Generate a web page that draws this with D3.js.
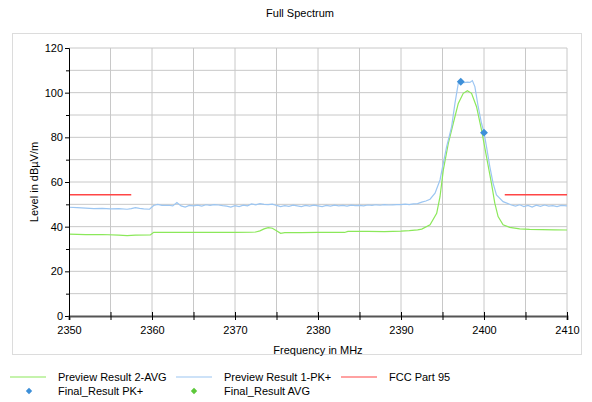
<!DOCTYPE html>
<html>
<head>
<meta charset="utf-8">
<script src="https://d3js.org/d3.v7.min.js"></script>
<style>
  body { margin: 0; background: #fff; }
  text { font-family: "Liberation Sans", Arial, sans-serif; }
</style>
</head>
<body>
<div id="cont"></div>
<script>
// Preview Result 1-PK+ (blue trace)
var pkFreq = [2350, 2351, 2352, 2353, 2354, 2355, 2356, 2357, 2357.5, 2358, 2358.5, 2359, 2359.7,
  2360.2, 2360.7, 2361.2, 2362, 2362.5, 2363, 2363.5, 2364, 2364.5, 2365, 2365.5, 2366, 2366.5,
  2367, 2367.5, 2368, 2368.5, 2369, 2369.5, 2370, 2370.5, 2371, 2371.5, 2372, 2372.5, 2373,
  2373.5, 2374, 2374.5, 2375, 2375.5, 2376, 2376.5, 2377, 2377.5, 2378, 2378.5, 2379, 2379.5,
  2380, 2380.5, 2381, 2381.5, 2382, 2382.5, 2383, 2383.5, 2384, 2384.5, 2385, 2385.5, 2386,
  2386.5, 2387, 2387.5, 2388, 2388.5, 2389, 2389.5, 2390, 2390.5, 2391, 2391.5, 2392, 2392.5,
  2393, 2393.5, 2394.1, 2394.7, 2395.1, 2395.5, 2396.1, 2396.5, 2396.9, 2397.2, 2397.6, 2398,
  2398.3, 2398.6, 2398.9, 2399.3, 2399.7, 2400, 2400.3, 2400.7, 2401.1, 2401.5, 2402.3, 2403.3,
  2403.8, 2404.3, 2404.8, 2405.3, 2405.8, 2406.3, 2406.8, 2407.3, 2407.8, 2408.3, 2408.8,
  2409.3, 2410];
var pkLevel = [48.7, 48.5, 48.3, 48.1, 48.2, 48.0, 48.1, 47.8, 48.1, 48.5, 48.2, 48.0, 47.8,
  49.5, 50.0, 49.5, 49.6, 49.3, 50.8, 49.3, 48.8, 49.5, 49.3, 49.6, 49.2, 49.8,
  49.5, 49.9, 49.7, 49.4, 49.2, 48.8, 49.4, 49.0, 49.6, 49.3, 50.2, 49.8, 50.3,
  50.0, 49.9, 50.1, 49.5, 49.0, 49.4, 49.1, 49.6, 49.3, 49.0, 49.5, 49.2, 49.6,
  49.3, 49.0, 49.5, 49.2, 49.6, 49.3, 49.5, 49.2, 49.6, 49.4, 49.5, 49.3, 49.7,
  49.5, 49.8, 49.6, 49.9, 49.7, 49.8, 49.9, 49.9, 50.1, 49.9, 50.2, 50.3, 51.0,
  51.5, 52.3, 55.0, 60.9, 68.4, 75.8, 84.8, 95.2, 104.2, 104.9, 104.5, 104.7,
  104.6, 105.4, 102.7, 93.7, 86.3, 82.1, 75.8, 66.9, 59.4, 54.2, 51.2, 49.7,
  49.2, 49.8, 49.0, 49.5, 48.8, 49.6, 49.1, 49.7, 49.2, 49.4, 49.0,
  49.5, 49.3];

// Preview Result 2-AVG (green trace)
var avgFreq = [2350, 2352, 2354, 2356, 2357, 2358, 2359.8, 2360.2, 2362, 2364, 2366, 2368, 2370,
  2372, 2372.5, 2373, 2373.5, 2374, 2374.5, 2375, 2375.5, 2376, 2378, 2380, 2382, 2383.2, 2383.6,
  2386, 2388, 2390, 2391, 2392, 2392.5, 2393.5, 2394.3, 2394.7, 2395.1, 2395.7, 2396.3, 2396.9,
  2397.5, 2398, 2398.5, 2399.1, 2399.7, 2400.3, 2400.9, 2401.3, 2401.7, 2402.3, 2403.1, 2404.3,
  2405.5, 2407, 2408.5, 2410];
var avgLevel = [36.7, 36.4, 36.5, 36.2, 36.0, 36.2, 36.3, 37.5, 37.4, 37.5, 37.4, 37.5, 37.4,
  37.5, 37.6, 38.1, 39.0, 39.6, 39.3, 38.2, 37.0, 37.3, 37.3, 37.4, 37.4, 37.4, 37.9,
  37.9, 37.8, 38.0, 38.2, 38.6, 38.9, 40.8, 46.0, 53.4, 65.4, 77.3, 86.3, 95.2,
  99.7, 100.9, 99.7, 93.7, 83.3, 71.3, 59.4, 50.5, 44.5, 40.8, 39.7, 39.0,
  38.8, 38.7, 38.6, 38.5];

// FCC Part 95 limit segments
var limitFreq = [[2350, 2357.5], [2402.5, 2410]];
var limitLevel = [54.3, 54.3];

// Final results
var finalPkFreq = [2397.2, 2400.0];
var finalPkLevel = [104.9, 82.1];

var xTicks = [2350, 2360, 2370, 2380, 2390, 2400, 2410];
var yTicks = [0, 20, 40, 60, 80, 100, 120];

var W = 592, H = 402;
var svg = d3.select("#cont").append("svg").attr("width", W).attr("height", H);

var x = d3.scaleLinear().domain([2350, 2410]).range([69, 567]);
var y = d3.scaleLinear().domain([0, 120]).range([316, 48]);

// title + panel
svg.append("text").attr("x", 300).attr("y", 17).attr("text-anchor", "middle")
  .attr("font-size", 11).text("Full Spectrum");
svg.append("rect").attr("x", 12.5).attr("y", 33.5).attr("width", 569).attr("height", 321)
  .attr("fill", "none").attr("stroke", "#dcdcdc");

// grid
var g = svg.append("g");
g.selectAll(".gx").data(d3.range(2355, 2411, 5)).enter().append("line")
  .attr("x1", d => x(d)).attr("x2", d => x(d)).attr("y1", y(120)).attr("y2", y(0))
  .attr("stroke", "#c8c8c8").attr("stroke-width", 1);
g.selectAll(".gy").data(d3.range(10, 121, 10)).enter().append("line")
  .attr("x1", x(2350)).attr("x2", x(2410)).attr("y1", d => y(d)).attr("y2", d => y(d))
  .attr("stroke", "#c8c8c8").attr("stroke-width", 1);

// traces
var line = d3.line().x(d => x(d[0])).y(d => y(d[1]));
svg.append("path").datum(d3.zip(avgFreq, avgLevel)).attr("d", line)
  .attr("fill", "none").attr("stroke", "#8be85a").attr("stroke-width", 1.2);
svg.append("path").datum(d3.zip(pkFreq, pkLevel)).attr("d", line)
  .attr("fill", "none").attr("stroke", "#9cc6f2").attr("stroke-width", 1.2);
limitFreq.forEach(function (f, i) {
  svg.append("line").attr("x1", x(f[0])).attr("x2", x(f[1]))
    .attr("y1", y(limitLevel[i])).attr("y2", y(limitLevel[i]))
    .attr("stroke", "#ff4545").attr("stroke-width", 1.5);
});
var diamond = d3.symbol().type(d3.symbolDiamond2).size(40);
svg.selectAll(".mk").data(d3.zip(finalPkFreq, finalPkLevel)).enter().append("path")
  .attr("d", diamond).attr("transform", d => "translate(" + x(d[0]) + "," + y(d[1]) + ")")
  .attr("fill", "#3d8fd8");

// axes
var yAxis = svg.append("g").attr("transform", "translate(69,0)")
  .call(d3.axisLeft(y).tickValues(yTicks).tickSize(4).tickPadding(2));
svg.append("g").attr("transform", "translate(69,0)")
  .call(d3.axisLeft(y).tickValues(d3.range(10, 120, 20)).tickSize(3).tickFormat(""))
  .select(".domain").remove();
yAxis.selectAll("text").attr("font-size", 11).attr("fill", "#000");
yAxis.select(".domain").attr("stroke", "#000");

var xAxis = svg.append("g").attr("transform", "translate(0,316)")
  .call(d3.axisBottom(x).tickValues(xTicks).tickSize(4).tickPadding(6).tickFormat(d3.format("d")));
xAxis.select(".domain").attr("stroke", "#555").attr("stroke-width", 2);
xAxis.selectAll("text").attr("font-size", 11).attr("fill", "#000");
svg.append("g").attr("transform", "translate(0,316)")
  .call(d3.axisBottom(x).tickValues(d3.range(2355, 2410, 10)).tickSize(4).tickFormat(""))
  .select(".domain").remove();
svg.selectAll(".tick line").attr("y1", function () {
  return d3.select(this.parentNode.parentNode).attr("transform") === "translate(0,316)" ? -4 : null;
});

svg.append("text").attr("x", 318).attr("y", 354).attr("text-anchor", "middle")
  .attr("font-size", 11).text("Frequency in MHz");
svg.append("text").attr("transform", "translate(38,182) rotate(-90)").attr("text-anchor", "middle")
  .attr("font-size", 11).text("Level in dB\u00b5V/m");

// legend
var lg = svg.append("g").attr("font-size", 11);
var legLines = [
  { x: 10, tx: 58, c: "#8be85a", t: "Preview Result 2-AVG" },
  { x: 176, tx: 224, c: "#9cc6f2", t: "Preview Result 1-PK+" },
  { x: 341, tx: 389, c: "#ff4545", t: "FCC Part 95" }
];
legLines.forEach(function (d) {
  lg.append("line").attr("x1", d.x).attr("x2", d.x + 36).attr("y1", 377).attr("y2", 377)
    .attr("stroke", d.c).attr("stroke-width", 1.2);
  lg.append("text").attr("x", d.tx).attr("y", 381).text(d.t);
});
var legMarks = [
  { x: 29, tx: 58, c: "#3d8fd8", t: "Final_Result PK+" },
  { x: 194, tx: 224, c: "#5cc83a", t: "Final_Result AVG" }
];
legMarks.forEach(function (d) {
  lg.append("path").attr("d", d3.symbol().type(d3.symbolDiamond2).size(26))
    .attr("transform", "translate(" + d.x + ",391)").attr("fill", d.c);
  lg.append("text").attr("x", d.tx).attr("y", 395).text(d.t);
});
</script>
</body>
</html>
